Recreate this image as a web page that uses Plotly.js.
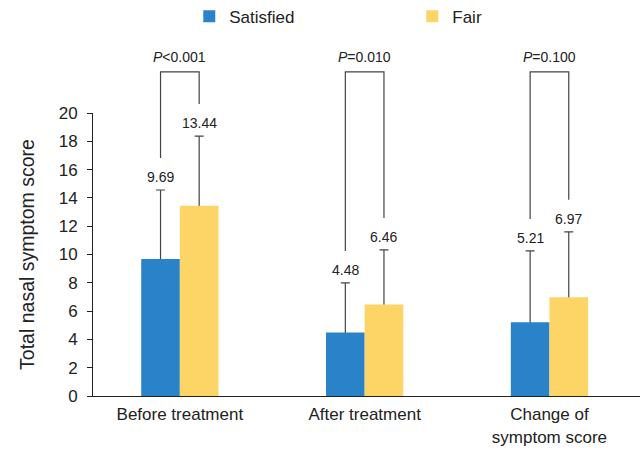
<!DOCTYPE html>
<html><head><meta charset="utf-8">
<script src="https://cdn.plot.ly/plotly-3.0.1.min.js"></script>
<style>html,body{margin:0;padding:0;background:#fff}</style>
</head><body><div id="chart" style="width:643px;height:455px"></div>
<script>
const categories = ['Before treatment', 'After treatment', 'Change of<br>symptom score'];
const seriesNames = ['Satisfied', 'Fair'];
const satisfied = [9.69, 4.48, 5.21];
const satisfiedSD = [4.87, 3.51, 5.04];
const fair = [13.44, 6.46, 6.97];
const fairSD = [4.93, 3.86, 4.63];
const pLabels = ['<i>P</i>&lt;0.001', '<i>P</i>=0.010', '<i>P</i>=0.100'];
const yTicks = [0, 2, 4, 6, 8, 10, 12, 14, 16, 18, 20];

const FONT = 'Liberation Sans, Arial, Helvetica, sans-serif';
const blue = '#2a82c8', yellow = '#fdd566', ink = '#222', errInk = '#444';
const yMax = 20;
const barW = 0.209;               // width of one bar in category units
const off = barW / 2;
const idx = categories.map((c, i) => i);
const plotH = 283;                 // plot height in px
const gapPx = 32;                  // bracket starts this far above the error cap
const bracketTop = 1.145;          // paper coords

// whiskers: drawn on the base axes; their lower end sits just inside the bar (hidden by it)
function whisker(xs, vals, sd) {
  return {type: 'scatter', mode: 'markers', x: xs, y: vals, xaxis: 'x', yaxis: 'y',
    marker: {size: 0.1, color: 'rgba(0,0,0,0)'}, showlegend: false, hoverinfo: 'none',
    error_y: {type: 'data', array: sd, arrayminus: vals.map(v => Math.min(0.3, v)), symmetric: false,
              color: errInk, thickness: 1.2, width: 4.5}};
}

const traces = [
  whisker(idx.map(i => i - off), satisfied, satisfiedSD),
  whisker(idx.map(i => i + off), fair, fairSD),
  {type: 'bar', name: seriesNames[0], x: idx, y: satisfied, marker: {color: blue},
   xaxis: 'x', yaxis: 'y2', hoverinfo: 'none'},
  {type: 'bar', name: seriesNames[1], x: idx, y: fair, marker: {color: yellow},
   xaxis: 'x', yaxis: 'y2', hoverinfo: 'none'}
];

const annotations = [];
const shapes = [];
idx.forEach(i => {
  const capS = satisfied[i] + satisfiedSD[i];
  const capF = fair[i] + fairSD[i];
  annotations.push({x: i - off, y: capS, xref: 'x', yref: 'y', text: satisfied[i].toFixed(2),
    showarrow: false, yanchor: 'middle', yshift: 13, font: {family: FONT, size: 14, color: ink}});
  annotations.push({x: i + off, y: capF, xref: 'x', yref: 'y', text: fair[i].toFixed(2),
    showarrow: false, yanchor: 'middle', yshift: 13, font: {family: FONT, size: 14, color: ink}});
  annotations.push({x: i, y: bracketTop, xref: 'x', yref: 'paper', text: pLabels[i],
    showarrow: false, yanchor: 'middle', yshift: 15, font: {family: FONT, size: 14, color: ink}});
  const yS = capS / yMax + gapPx / plotH;
  const yF = capF / yMax + gapPx / plotH;
  shapes.push({type: 'path', xref: 'x', yref: 'paper',
    path: `M ${i - off},${yS} L ${i - off},${bracketTop} L ${i + off},${bracketTop} L ${i + off},${yF}`,
    line: {color: errInk, width: 1.2}});
});

const layout = {
  width: 643, height: 455,
  margin: {l: 93, r: 3, t: 113, b: 59, autoexpand: false},
  paper_bgcolor: '#fff', plot_bgcolor: '#fff',
  font: {family: FONT, color: ink, size: 17},
  barmode: 'group', bargap: 1 - 2 * barW, bargroupgap: 0,
  showlegend: true,
  legend: {orientation: 'h', x: 0.176, y: 1.34, xanchor: 'left', yanchor: 'middle',
           entrywidth: 178, font: {family: FONT, size: 17, color: ink}, traceorder: 'normal'},
  xaxis: {type: 'linear', range: [-0.47, 2.49], tickvals: idx, ticktext: categories,
          showline: true, linecolor: ink, linewidth: 1, ticks: '', showgrid: false, zeroline: false,
          ticklabelstandoff: 3, tickfont: {family: FONT, size: 17, color: ink}},
  yaxis: {range: [0, yMax], tickvals: yTicks, ticktext: yTicks.map(String),
          showline: true, linecolor: ink, linewidth: 1, ticks: 'outside', ticklen: 5, tickcolor: ink,
          showgrid: false, zeroline: false, ticklabelstandoff: 6, tickfont: {family: FONT, size: 17, color: ink},
          title: {text: 'Total nasal symptom score', font: {family: FONT, size: 19.5, color: ink}, standoff: 18}},
  yaxis2: {range: [0, yMax], overlaying: 'y', visible: false, showgrid: false, zeroline: false},
  annotations: annotations,
  shapes: shapes
};

Plotly.newPlot('chart', traces, layout, {displayModeBar: false, staticPlot: true});
</script>
</body></html>
